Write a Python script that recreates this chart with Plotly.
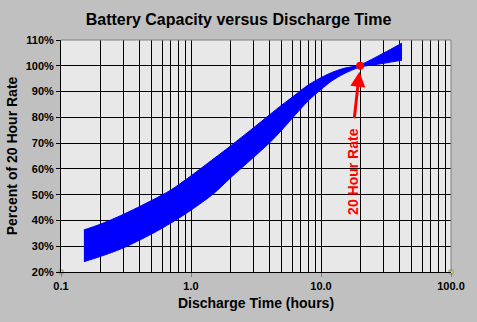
import math
import plotly.graph_objects as go

# Data
time_hours = [0.15, 0.2, 0.3, 0.5, 0.7, 1.0, 1.5, 2, 3, 4, 5, 6, 8, 10, 12, 15, 20, 30, 42]
upper_pct = [36.3, 38.5, 42.3, 47.8, 51.8, 57.3, 64.0, 68.8, 75.8, 80.9, 84.8, 87.8, 92.6, 95.4, 97.3, 99.0, 100.4, 104.8, 108.8]
lower_pct = [24.0, 26.0, 29.3, 34.8, 39.0, 44.0, 50.5, 56.4, 64.3, 70.0, 75.1, 79.6, 86.5, 90.8, 94.0, 96.9, 99.5, 100.9, 102.2]

rate20_x = [20]
rate20_y = [100]

corner_x = [0.1, 100]
corner_y = [20, 20]

x_tickvals = [0.1, 1, 10, 100]
x_ticktext = ["0.1", "1.0", "10.0", "100.0"]
y_tickvals = [20, 30, 40, 50, 60, 70, 80, 90, 100, 110]
y_ticktext = [f"{v}%" for v in y_tickvals]

# minor grid positions (2..9 per decade)
minor_vals = [m * d for d in [0.1, 1, 10] for m in range(2, 10)]

FONT = "Liberation Sans, Arial, sans-serif"

fig = go.Figure()
fig.add_trace(go.Scatter(x=time_hours, y=lower_pct, mode="lines",
                         line=dict(color="#0000ff", width=1, shape="spline", smoothing=0.8),
                         showlegend=False, hoverinfo="skip"))
fig.add_trace(go.Scatter(x=time_hours, y=upper_pct, mode="lines", fill="tonexty",
                         fillcolor="#0000ff",
                         line=dict(color="#0000ff", width=1, shape="spline", smoothing=0.8),
                         showlegend=False, hoverinfo="skip"))
fig.add_trace(go.Scatter(x=rate20_x, y=rate20_y, mode="markers",
                         marker=dict(color="#ff0000", size=8),
                         showlegend=False))
fig.add_trace(go.Scatter(x=corner_x, y=corner_y, mode="markers",
                         marker=dict(color="#e8ff00", size=4, symbol="square",
                                     line=dict(color="#909090", width=1)),
                         cliponaxis=False, showlegend=False))

# annotation coordinates on a log axis are given in log10 units
px_log = math.log10(rate20_x[0])
# arrow only
fig.add_annotation(x=px_log, y=rate20_y[0], xref="x", yref="y", text="",
                   showarrow=True, arrowhead=2, arrowsize=1, arrowwidth=3,
                   arrowcolor="#ff0000", ax=-6, ay=54, standoff=6)
# rotated label under the arrow
fig.add_annotation(x=px_log, y=rate20_y[0], xref="x", yref="y",
                   text="<b>20 Hour Rate</b>", textangle=-90, showarrow=False,
                   font=dict(family=FONT, size=14, color="#ff0000"),
                   xshift=-7, yshift=-106)

fig.update_layout(
    width=477, height=322,
    margin=dict(l=59, r=21, t=40, b=50),
    paper_bgcolor="#c0c0c0",
    plot_bgcolor="#e8e8e8",
    font=dict(family=FONT, color="#000000"),
    title=dict(text="<b>Battery Capacity versus Discharge Time</b>",
               x=0.5, xref="container", y=1 - 19 / 322, yref="container",
               yanchor="middle", xanchor="center",
               font=dict(family=FONT, size=16, color="#000000")),
    showlegend=False,
)
fig.update_xaxes(type="log", range=[-1, 2],
                 tickvals=x_tickvals, ticktext=x_ticktext,
                 tickfont=dict(family=FONT, size=11, color="#000000", weight="bold"),
                 showgrid=True, gridcolor="#000000", gridwidth=1,
                 minor=dict(tickvals=minor_vals, showgrid=True, gridcolor="#000000",
                            gridwidth=1),
                 showline=True, linecolor="#000000", linewidth=1,
                 ticks="outside", ticklen=4, tickcolor="#808080",
                 title=dict(text="<b>Discharge Time (hours)</b>",
                            font=dict(family=FONT, size=14, color="#000000"),
                            standoff=6),
                 zeroline=False)
fig.update_yaxes(range=[20, 110], tickvals=y_tickvals, ticktext=y_ticktext,
                 tickfont=dict(family=FONT, size=11, color="#000000", weight="bold"),
                 showgrid=True, gridcolor="#000000", gridwidth=1,
                 showline=True, linecolor="#000000", linewidth=1,
                 ticks="outside", ticklen=4, tickcolor="#000000",
                 title=dict(text="<b>Percent of 20 Hour Rate</b>",
                            font=dict(family=FONT, size=14, color="#000000"),
                            standoff=4),
                 zeroline=False)

# gray border on top and right of the plot area
fig.add_shape(type="line", xref="paper", yref="paper", x0=0, x1=1, y0=1, y1=1,
              line=dict(color="#808080", width=1))
fig.add_shape(type="line", xref="paper", yref="paper", x0=1, x1=1, y0=0, y1=1,
              line=dict(color="#808080", width=1))

fig.write_html("out.html")
